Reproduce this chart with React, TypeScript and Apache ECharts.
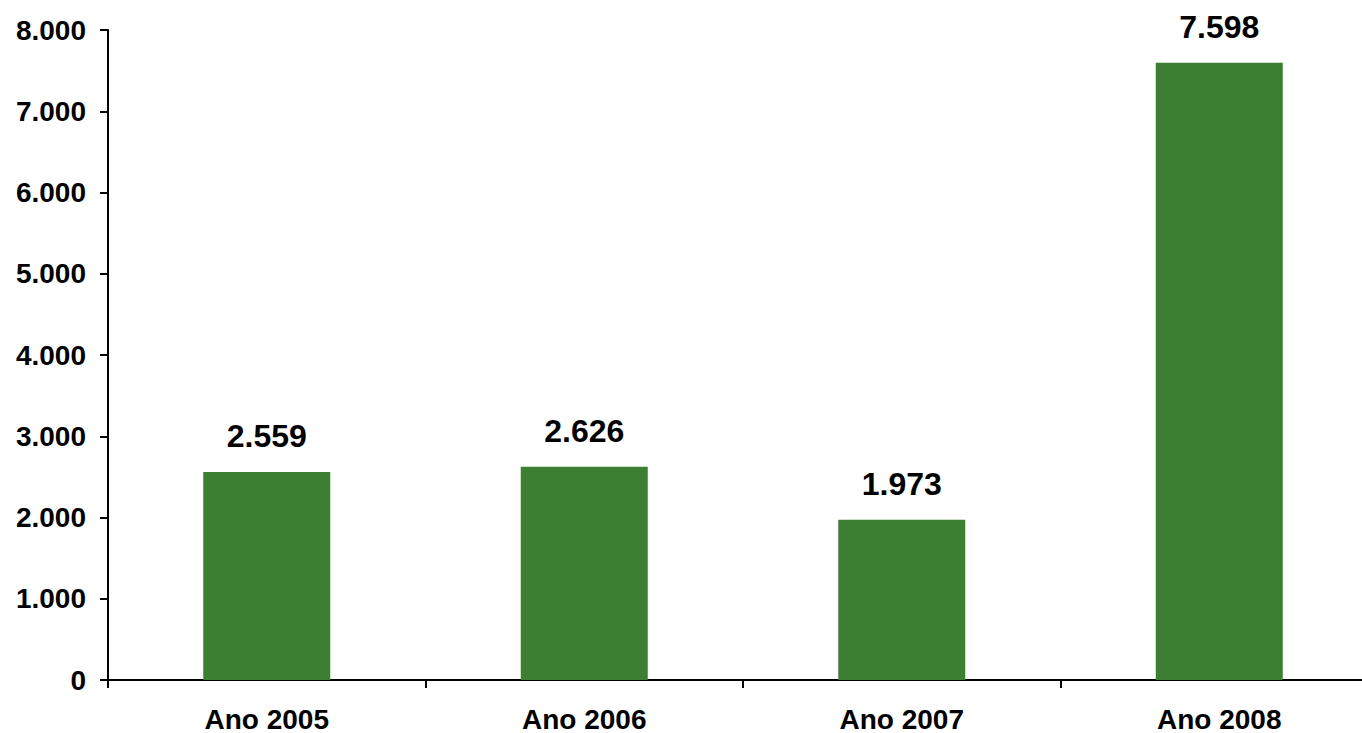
import React, { useEffect, useRef } from "react";
import * as echarts from "echarts";

const categories = ["Ano 2005", "Ano 2006", "Ano 2007", "Ano 2008"];
const values = [2559, 2626, 1973, 7598];
const yMin = 0;
const yMax = 8000;
const yInterval = 1000;

const fmt = (v: number) => String(v).replace(/\B(?=(\d{3})+(?!\d))/g, ".");

export default function App() {
  const ref = useRef<HTMLDivElement>(null);
  useEffect(() => {
    if (!ref.current) return;
    const chart = echarts.init(ref.current, null, { renderer: "svg" });
    const font = "'Liberation Sans', Arial, sans-serif";
    chart.setOption({
      animation: false,
      backgroundColor: "#ffffff",
      grid: { left: 108, right: 2, top: 30, bottom: 53 },
      xAxis: {
        type: "category",
        data: categories,
        axisLine: { lineStyle: { color: "#000", width: 2 } },
        axisTick: { show: true, length: 8, lineStyle: { color: "#000", width: 2 } },
        axisLabel: {
          color: "#000",
          fontFamily: font,
          fontWeight: "bold",
          fontSize: 28,
          margin: 25,
        },
      },
      yAxis: {
        type: "value",
        min: yMin,
        max: yMax,
        interval: yInterval,
        splitLine: { show: false },
        axisLine: { show: true, lineStyle: { color: "#000", width: 2 } },
        axisTick: { show: true, length: 8, lineStyle: { color: "#000", width: 2 } },
        axisLabel: {
          color: "#000",
          fontFamily: font,
          fontWeight: "bold",
          fontSize: 28,
          margin: 22,
          formatter: (v: number) => fmt(v),
        },
      },
      series: [
        {
          type: "bar",
          data: values,
          barWidth: "40%",
          itemStyle: { color: "#3D7F32" },
          label: {
            show: true,
            position: "top",
            distance: 20,
            color: "#000",
            fontFamily: font,
            fontWeight: "bold",
            fontSize: 32,
            formatter: (p: any) => fmt(p.value),
          },
        },
      ],
    });
    return () => chart.dispose();
  }, []);
  return (
    <div
      style={{
        position: "fixed",
        left: 0,
        top: 0,
        width: 1362,
        height: 733,
        overflow: "hidden",
        background: "#fff",
      }}
    >
      <div ref={ref} style={{ width: 1380, height: 733 }} />
    </div>
  );
}
